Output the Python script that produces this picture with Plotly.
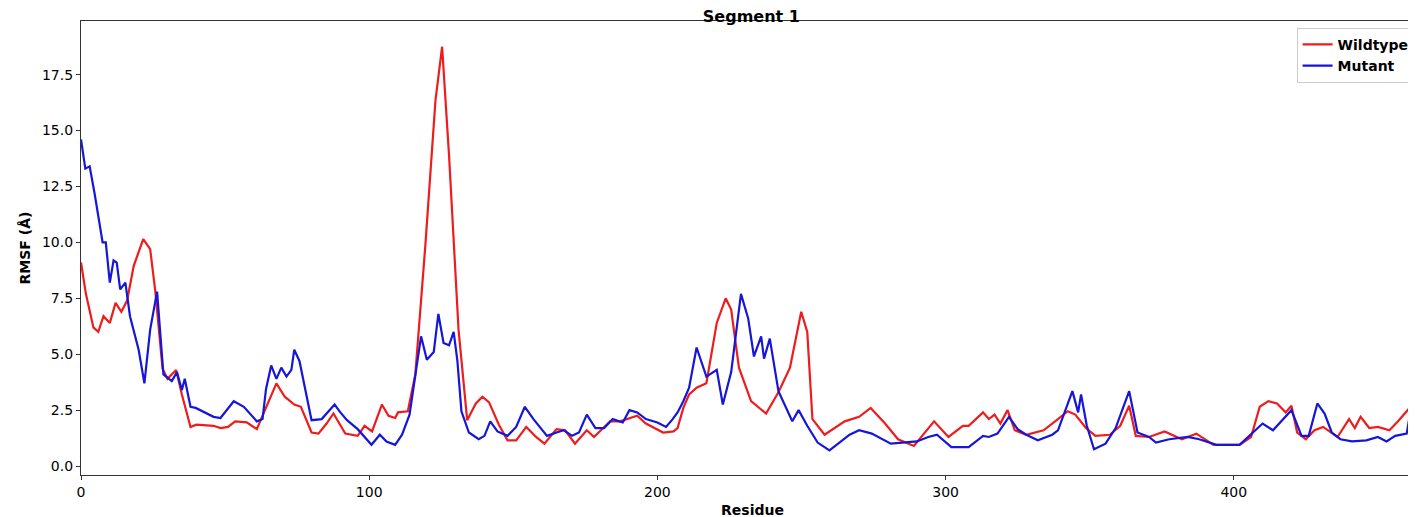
import plotly.graph_objects as go

# residue positions and RMSF values
wt_res = [0, 1.7, 4.3, 6, 7.8, 10, 12, 14, 16, 18.3, 21.6, 24, 25.8, 28.3, 30, 33, 35, 38, 40, 46, 48.4, 51, 53.5,
          57.5, 61, 65, 67.8, 70.7, 74, 76.3, 80, 82.4, 85.2, 87.6, 91.7, 96, 98.4, 101, 104.4, 106.7, 109, 110,
          113.4, 116, 119.5, 123, 125.3, 127.7, 131, 134, 137, 139.3, 141.6, 145, 148, 151, 154.5, 157.9, 160.8,
          165, 168, 171.4, 175.5, 178, 183.6, 187, 193, 196, 202, 205.6, 207, 209, 211, 213.6, 217, 220.6, 223.7,
          225.6, 228.3, 232.5, 237.7, 242, 246, 249.9, 252, 253.8, 258, 265, 270, 274, 279, 283.5, 289, 296, 301,
          306, 308, 313, 315, 317, 319, 321.5, 324, 328, 334, 338, 342.4, 345, 348.7, 352, 357, 360.6, 363.7, 366,
          370.6, 376, 382, 387, 393, 402, 406, 409, 412, 415, 418, 420, 422, 425, 428, 431, 436, 440, 442, 444,
          447, 450, 454, 457, 461, 464, 466]
wt_rmsf = [9.1, 7.7, 6.2, 6.0, 6.7, 6.4, 7.3, 6.9, 7.4, 8.95, 10.15, 9.7, 7.8, 4.35, 3.9, 4.3, 3.2, 1.75, 1.85, 1.8,
           1.7, 1.75, 2.0, 1.95, 1.65, 2.9, 3.7, 3.1, 2.75, 2.65, 1.5, 1.45, 1.9, 2.35, 1.45, 1.35, 1.8, 1.55,
           2.75, 2.25, 2.15, 2.4, 2.45, 4.1, 9.9, 16.35, 18.75, 13.9, 6.1, 2.05, 2.8, 3.1, 2.85, 1.85, 1.15, 1.15,
           1.75, 1.3, 1.0, 1.65, 1.6, 1.0, 1.6, 1.3, 2.0, 2.0, 2.25, 1.9, 1.5, 1.55, 1.7, 2.6, 3.2, 3.5, 3.7, 6.4,
           7.5, 7.0, 4.4, 2.9, 2.35, 3.3, 4.4, 6.9, 6.0, 2.1, 1.4, 2.0, 2.2, 2.6, 1.9, 1.2, 0.9, 2.0, 1.3, 1.8,
           1.8, 2.4, 2.1, 2.3, 1.9, 2.5, 1.6, 1.4, 1.6, 2.0, 2.45, 2.3, 1.7, 1.35, 1.4, 1.8, 2.7, 1.35, 1.3, 1.55,
           1.2, 1.45, 0.95, 0.95, 1.3, 2.65, 2.9, 2.8, 2.4, 2.7, 1.5, 1.2, 1.6, 1.75, 1.3, 2.1, 1.7, 2.2, 1.7,
           1.75, 1.6, 2.0, 2.6, 3.8, 6.5]

mt_res = [0, 1.5, 3, 4.7, 7.5, 8.6, 10, 11.3, 12.4, 13.6, 15.4, 17, 20, 22, 24, 26.4, 28.6, 31.5, 33.3, 35, 36, 38,
          39.8, 46, 48.4, 53, 56.5, 61, 63, 64.2, 66, 67.8, 69.5, 71.3, 73, 74, 75.8, 80, 83.5, 88, 90, 92.3, 96,
          100.8, 103.7, 106, 109, 111.4, 114, 116, 118, 120, 122.4, 124, 125.8, 127.7, 129.3, 130.6, 132, 134.6,
          138, 140, 142, 144.5, 148, 151, 154, 157, 161.7, 165, 167.5, 170.4, 172.8, 175.5, 178.5, 181.5, 184.5,
          188, 190.3, 193, 196, 200, 203, 205.3, 207, 209, 211, 213.6, 217, 220.6, 222.7, 225.6, 229, 231.5,
          233.5, 236, 237, 239, 242, 246.8, 249, 252, 255.6, 259.7, 266.7, 270, 274.4, 281, 290, 294, 297, 302,
          306, 308, 313, 315, 318, 322, 325, 328, 332, 337, 339, 341.7, 344, 346, 347, 349, 351.5, 355.5, 359,
          363.7, 366.6, 370.6, 373, 377.6, 384, 388, 394, 402, 404.5, 410, 413.6, 416.5, 420, 423.5, 426, 429,
          431.5, 434, 437, 441, 446, 450, 453, 456, 460, 463, 465, 466]
mt_rmsf = [14.6, 13.3, 13.4, 12.2, 10.0, 10.0, 8.2, 9.2, 9.1, 7.9, 8.2, 6.7, 5.2, 3.7, 6.1, 7.8, 4.1, 3.8, 4.2, 3.4,
           3.9, 2.65, 2.6, 2.2, 2.15, 2.9, 2.65, 2.0, 2.1, 3.45, 4.5, 3.9, 4.4, 4.0, 4.3, 5.2, 4.7, 2.05, 2.1, 2.75,
           2.4, 2.05, 1.65, 0.95, 1.4, 1.1, 0.95, 1.4, 2.3, 4.0, 5.8, 4.75, 5.1, 6.8, 5.5, 5.4, 6.0, 4.7, 2.45,
           1.5, 1.2, 1.35, 2.0, 1.55, 1.35, 1.75, 2.65, 2.1, 1.35, 1.5, 1.6, 1.35, 1.5, 2.3, 1.7, 1.7, 2.1, 1.95,
           2.5, 2.4, 2.1, 1.95, 1.75, 2.1, 2.4, 2.9, 3.5, 5.3, 4.0, 4.3, 2.75, 4.2, 7.7, 6.6, 4.9, 5.8, 4.8, 5.7,
           3.35, 2.0, 2.5, 1.8, 1.05, 0.7, 1.4, 1.6, 1.45, 1.0, 1.1, 1.3, 1.4, 0.85, 0.85, 0.85, 1.35, 1.3, 1.45,
           2.2, 1.65, 1.4, 1.15, 1.4, 1.6, 2.5, 3.35, 2.4, 3.2, 1.8, 0.75, 1.0, 1.7, 3.35, 1.5, 1.3, 1.05, 1.2,
           1.3, 1.2, 0.95, 0.95, 1.25, 1.9, 1.6, 2.0, 2.5, 1.35, 1.35, 2.8, 2.35, 1.5, 1.2, 1.1, 1.15, 1.3, 1.1,
           1.35, 1.45, 3.75, 3.9, 5.5]

fig = go.Figure()
fig.add_trace(go.Scatter(x=wt_res, y=wt_rmsf, name="<b>Wildtype</b>", mode="lines",
                         line=dict(color="#ee1c1c", width=2.2), cliponaxis=False))
fig.add_trace(go.Scatter(x=mt_res, y=mt_rmsf, name="<b>Mutant</b>", mode="lines",
                         line=dict(color="#1616d8", width=2.2), cliponaxis=False))

axis_style = dict(showline=True, linecolor="#333", linewidth=1.2, mirror=True, ticks="outside",
                  ticklen=4, tickcolor="#333", showgrid=False, zeroline=False,
                  tickfont=dict(family="DejaVu Sans", size=14, color="black"))

fig.update_layout(
    width=1416, height=517,
    plot_bgcolor="white", paper_bgcolor="white",
    margin=dict(l=73, r=0, t=13, b=50),
    title=dict(text="<b>Segment 1</b>", x=0.525, xanchor="center", y=0.995, yanchor="top",
               font=dict(family="DejaVu Sans", size=16, color="black")),
    xaxis=dict(title=dict(text="<b>Residue</b>", standoff=6,
                          font=dict(family="DejaVu Sans", size=14, color="black")),
               range=[0, 466], tickvals=[0, 100, 200, 300, 400], **axis_style),
    yaxis=dict(title=dict(text="<b>RMSF (Å)</b>", standoff=8,
                          font=dict(family="DejaVu Sans", size=14, color="black")),
               range=[-0.4, 19.9], tickvals=[0, 2.5, 5, 7.5, 10, 12.5, 15, 17.5],
               ticktext=["0.0", "2.5", "5.0", "7.5", "10.0", "12.5", "15.0", "17.5"], **axis_style),
    legend=dict(x=0.993, y=0.985, xanchor="right", yanchor="top", bgcolor="white",
                bordercolor="#ccc", borderwidth=1,
                font=dict(family="DejaVu Sans", size=14, color="black")),
    showlegend=True,
)

fig.write_html("out.html")
